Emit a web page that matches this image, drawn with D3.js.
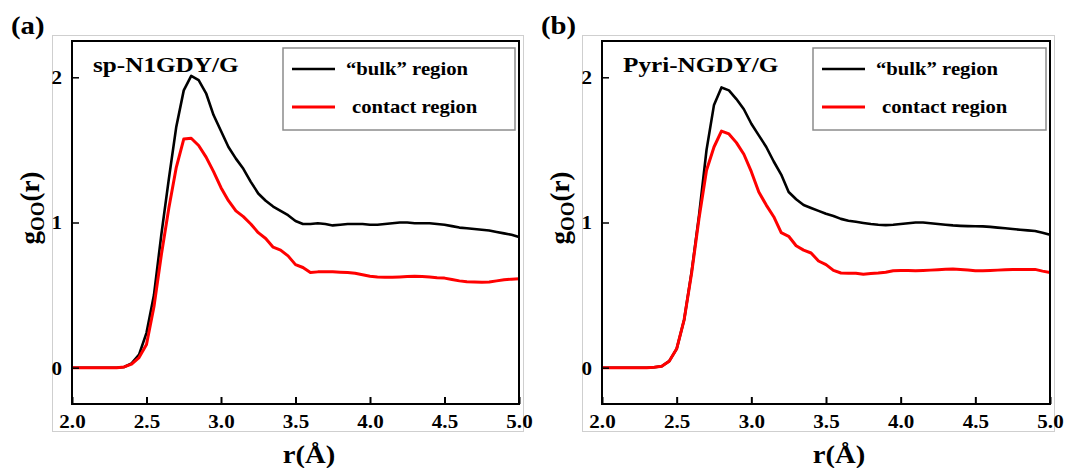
<!DOCTYPE html>
<html>
<head>
<meta charset="utf-8">
<script src="https://cdn.jsdelivr.net/npm/d3@7"></script>
<style>
  body { margin: 0; background: #fff; }
  svg { display: block; }
  text { font-family: "Liberation Serif", "Times New Roman", serif; font-weight: bold; fill: #000; }
</style>
</head>
<body>
<svg id="chart" width="1065" height="468"></svg>
<script>
// O–O radial distribution functions, r in Å
const rValues = [
  2.00, 2.05, 2.10, 2.15, 2.20, 2.25, 2.30, 2.35, 2.40, 2.45,
  2.50, 2.55, 2.60, 2.65, 2.70, 2.75, 2.80, 2.85, 2.90, 2.95,
  3.00, 3.05, 3.10, 3.15, 3.20, 3.25, 3.30, 3.35, 3.40, 3.45,
  3.50, 3.55, 3.60, 3.65, 3.70, 3.75, 3.80, 3.85, 3.90, 3.95,
  4.00, 4.05, 4.10, 4.15, 4.20, 4.25, 4.30, 4.35, 4.40, 4.45,
  4.50, 4.55, 4.60, 4.65, 4.70, 4.75, 4.80, 4.85, 4.90, 4.95,
  5.00
];

// sp-N1GDY/G
const bulkA = [
  0, 0, 0, 0, 0, 0, 0, 0.005, 0.03, 0.09,
  0.24, 0.50, 0.92, 1.30, 1.66, 1.91, 2.01, 1.98, 1.89, 1.74,
  1.63, 1.52, 1.44, 1.37, 1.28, 1.20, 1.15, 1.11, 1.08, 1.05,
  1.01, 0.99, 0.99, 0.995, 0.99, 0.98, 0.985, 0.99, 0.99, 0.99,
  0.985, 0.985, 0.99, 0.995, 1.00, 1.00, 0.995, 0.995, 0.995, 0.99,
  0.985, 0.975, 0.965, 0.96, 0.955, 0.95, 0.945, 0.935, 0.925, 0.915,
  0.90
];
const contactA = [
  0, 0, 0, 0, 0, 0, 0, 0.005, 0.025, 0.07,
  0.16, 0.42, 0.78, 1.10, 1.38, 1.575, 1.58, 1.53, 1.45, 1.35,
  1.24, 1.15, 1.08, 1.04, 0.99, 0.93, 0.89, 0.83, 0.81, 0.77,
  0.71, 0.69, 0.655, 0.66, 0.66, 0.66, 0.657, 0.655, 0.65, 0.64,
  0.63, 0.625, 0.623, 0.623, 0.625, 0.628, 0.63, 0.628, 0.625, 0.62,
  0.617, 0.608, 0.598, 0.592, 0.59, 0.588, 0.59, 0.598, 0.605, 0.61,
  0.612
];

// Pyri-NGDY/G
const bulkB = [
  0, 0, 0, 0, 0, 0, 0, 0.003, 0.01, 0.045,
  0.13, 0.33, 0.66, 1.05, 1.50, 1.81, 1.93, 1.91, 1.85, 1.78,
  1.68, 1.60, 1.52, 1.42, 1.33, 1.21, 1.16, 1.12, 1.10, 1.08,
  1.06, 1.045, 1.025, 1.012, 1.005, 0.997, 0.99, 0.985, 0.982, 0.985,
  0.99, 0.995, 1.00, 1.00, 0.995, 0.99, 0.985, 0.98, 0.977, 0.975,
  0.974, 0.973, 0.97, 0.965, 0.96, 0.955, 0.95, 0.946, 0.942, 0.93,
  0.915
];
const contactB = [
  0, 0, 0, 0, 0, 0, 0, 0.003, 0.01, 0.045,
  0.13, 0.33, 0.65, 1.03, 1.36, 1.52, 1.63, 1.61, 1.55, 1.47,
  1.35, 1.21, 1.12, 1.04, 0.93, 0.905, 0.84, 0.81, 0.79, 0.735,
  0.71, 0.67, 0.652, 0.65, 0.65, 0.643, 0.648, 0.652, 0.658, 0.668,
  0.67, 0.67, 0.668, 0.67, 0.672, 0.675, 0.678, 0.679, 0.677, 0.673,
  0.668, 0.668, 0.67, 0.672, 0.675, 0.677, 0.677, 0.677, 0.677, 0.665,
  0.655
];

const xTicks = [2.0, 2.5, 3.0, 3.5, 4.0, 4.5, 5.0];
const xTickLabels = ["2.0", "2.5", "3.0", "3.5", "4.0", "4.5", "5.0"];
const yTicks = [0, 1, 2];
const yTickLabels = ["0", "1", "2"];
const seriesNames = ["\u201cbulk\u201d region", "contact region"];
const seriesColors = ["#000000", "#ff0000"];
const panelTags = ["(a)", "(b)"];
const panelTitles = ["sp-N1GDY/G", "Pyri-NGDY/G"];

const SX = 1.17; // horizontal widening of the bold serif lettering

const svg = d3.select("#chart");

const panels = [
  { tag: panelTags[0], title: panelTitles[0], series: [bulkA, contactA],
    plot: { left: 72, right: 519, top: 41, bottom: 404 }, frameLeft: 52, tagX: 11 },
  { tag: panelTags[1], title: panelTitles[1], series: [bulkB, contactB],
    plot: { left: 602, right: 1050, top: 41, bottom: 404 }, frameLeft: 582, tagX: 541 }
];

function wideText(sel, x, y, str, size, anchor, sx) {
  return sel.append("text")
    .attr("transform", `translate(${x},${y}) scale(${sx === undefined ? SX : sx},1)`)
    .attr("text-anchor", anchor || "start")
    .style("font-size", size + "px")
    .text(str);
}

panels.forEach(p => {
  const g = svg.append("g");
  const { left, right, top, bottom } = p.plot;

  // light outer border around each panel
  g.append("rect")
    .attr("x", p.frameLeft + 0.5).attr("y", 35.5)
    .attr("width", right + 4 - p.frameLeft).attr("height", 431 - 35)
    .attr("fill", "none").attr("stroke", "#cfcfcf").attr("stroke-width", 1);

  const x = d3.scaleLinear().domain([2, 5]).range([left, right]);
  const y = d3.scaleLinear().domain([-0.25, 2.25]).range([bottom, top]);

  // curves
  const line = d3.line()
    .x((d, i) => x(rValues[i]))
    .y(d => y(d));
  p.series.forEach((vals, k) => {
    g.append("path")
      .datum(vals)
      .attr("d", line)
      .attr("fill", "none")
      .attr("stroke", seriesColors[k])
      .attr("stroke-width", k === 0 ? 2.6 : 3)
      .attr("stroke-linejoin", "round");
  });

  // bottom axis, ticks pointing inward
  const xAxis = d3.axisBottom(x)
    .tickValues(xTicks)
    .tickFormat((d, i) => xTickLabels[i])
    .tickSizeInner(-7).tickSizeOuter(0);
  const gx = g.append("g").attr("transform", `translate(0,${bottom})`).call(xAxis);
  gx.select(".domain").remove();
  gx.selectAll(".tick line").attr("stroke", "#000").attr("stroke-width", 2);
  gx.selectAll(".tick text")
    .attr("y", 24.5).attr("dy", null)
    .attr("transform", `scale(${SX},1)`)
    .style("font-size", "18px")
    .style("font-family", "'Liberation Serif', serif")
    .style("font-weight", "bold")
    .attr("fill", "#000");

  // left axis, ticks pointing inward
  const yAxis = d3.axisLeft(y)
    .tickValues(yTicks)
    .tickFormat((d, i) => yTickLabels[i])
    .tickSizeInner(-7).tickSizeOuter(0);
  const gy = g.append("g").attr("transform", `translate(${left},0)`).call(yAxis);
  gy.select(".domain").remove();
  gy.selectAll(".tick line").attr("stroke", "#000").attr("stroke-width", 1.5);
  gy.selectAll(".tick text")
    .attr("x", -10 / SX).attr("dy", "0.36em")
    .attr("transform", `scale(${SX},1)`)
    .style("font-size", "18px")
    .style("font-family", "'Liberation Serif', serif")
    .style("font-weight", "bold")
    .attr("fill", "#000");

  // plot frame
  g.append("rect")
    .attr("x", left).attr("y", top)
    .attr("width", right - left).attr("height", bottom - top)
    .attr("fill", "none").attr("stroke", "#000").attr("stroke-width", 2);

  // panel tag and title
  wideText(g, p.tagX, 34, p.tag, 25, "start", 1.15);
  wideText(g, left + 21, 72, p.title, 21, "start", 1.2);

  // legend
  const lgL = left + 211, lgR = right - 4;
  g.append("rect")
    .attr("x", lgL).attr("y", 48)
    .attr("width", lgR - lgL).attr("height", 82)
    .attr("fill", "#fff").attr("stroke", "#8c8c8c").attr("stroke-width", 1.5);
  const rowY = [69, 107];
  const textY = [74.5, 113];
  seriesNames.forEach((name, k) => {
    g.append("line")
      .attr("x1", lgL + 9).attr("x2", lgL + 52)
      .attr("y1", rowY[k]).attr("y2", rowY[k])
      .attr("stroke", seriesColors[k]).attr("stroke-width", k === 0 ? 2.6 : 3);
    wideText(g, lgL + (k === 0 ? 63 : 69), textY[k], name, 18, "start", 1.15);
  });

  // axis titles
  wideText(g, left + 237, 463, "r(\u00c5)", 26, "middle", 1.1);

  const yt = g.append("text")
    .attr("transform", `translate(${left - 33},208) rotate(-90)`)
    .attr("text-anchor", "middle")
    .style("font-size", "27px");
  yt.append("tspan").text("g");
  yt.append("tspan").attr("dy", 5).style("font-size", "19px").text("OO");
  yt.append("tspan").attr("dy", -5).text("(r)");
});
</script>
</body>
</html>
